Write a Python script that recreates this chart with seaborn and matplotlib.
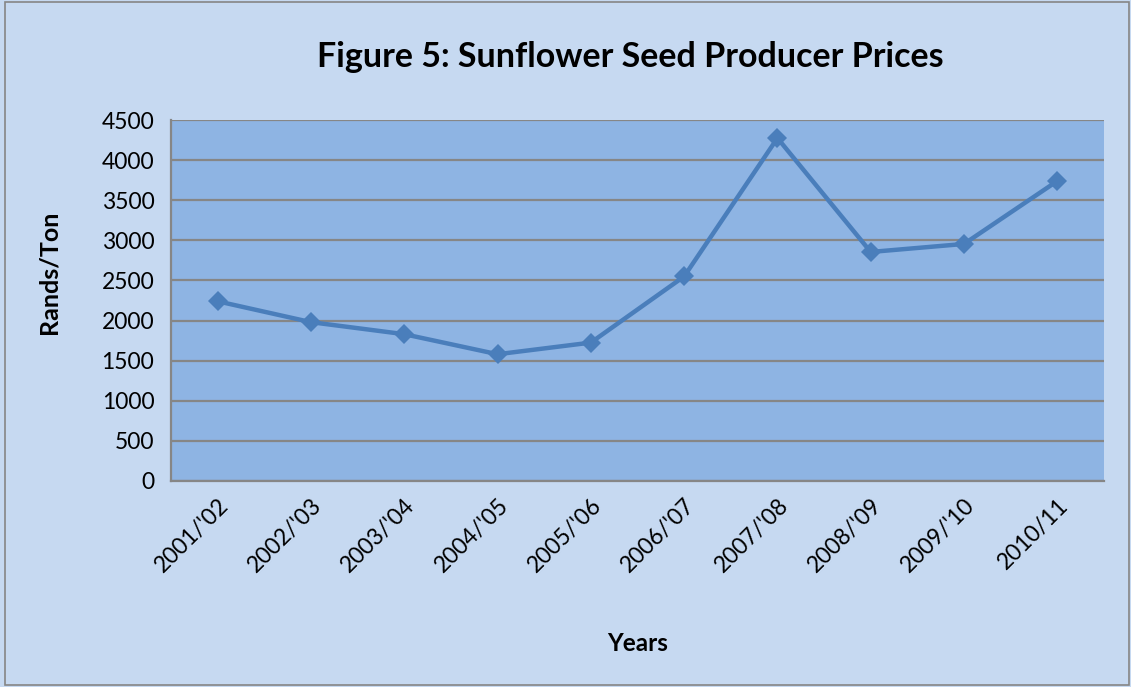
import matplotlib
matplotlib.use("Agg")
import matplotlib.pyplot as plt
import seaborn as sns
import pandas as pd
import numpy as np
from matplotlib.patches import Rectangle

years = ["2001/'02", "2002/'03", "2003/'04", "2004/'05", "2005/'06",
         "2006/'07", "2007/'08", "2008/'09", "2009/'10", "2010/11"]
prices = [2240, 1980, 1830, 1580, 1725, 2550, 4275, 2855, 2955, 3740]

df = pd.DataFrame({"pos": np.arange(len(years)), "price": prices})

sns.set_style("white")
plt.rcParams['font.family'] = ['Lato', 'DejaVu Sans']
plt.rcParams['text.color'] = 'black'
plt.rcParams['xtick.color'] = 'black'
plt.rcParams['ytick.color'] = 'black'

fig = plt.figure(figsize=(11.31, 6.87), dpi=100, facecolor="#C6D9F1")
ax = fig.add_axes([0.1512, 0.2999, 0.8249, 0.5254])
ax.set_facecolor("#8EB4E3")

sns.lineplot(data=df, x="pos", y="price", ax=ax, color="#4A7EBB",
             linewidth=3.2, marker="D", markersize=10, markeredgewidth=0,
             sort=False)

ax.set_xlim(-0.5, len(years) - 0.5)
ax.set_ylim(0, 4500)
ax.set_yticks(np.arange(0, 4501, 500))
ax.yaxis.grid(True, color="#868686", linewidth=1.6)
ax.set_axisbelow(True)

# category boundaries as major ticks, labels on minor ticks at centres
ax.set_xticks(np.arange(-0.5, len(years), 1.0))
ax.set_xticklabels([])
ax.set_xticks(np.arange(len(years)), minor=True)
ax.set_xticklabels(years, minor=True, rotation=45, ha="right",
                   rotation_mode="anchor", fontsize=16.5)
ax.tick_params(axis="x", which="minor", length=0, pad=10, labelcolor="black")
ax.tick_params(axis="x", which="major", length=8, width=1.5,
               color="#868686", direction="out")
ax.tick_params(axis="y", length=8, width=1.5, color="#868686",
               direction="out", labelsize=16.5, pad=4, labelcolor="black")

for side in ["top", "right"]:
    ax.spines[side].set_visible(False)
for side in ["left", "bottom"]:
    ax.spines[side].set_color("#868686")
    ax.spines[side].set_linewidth(1.6)

ax.set_xlabel("")
ax.set_ylabel("")
fig.text(0.0435, 0.603, "Rands/Ton", rotation=90, ha="center", va="center",
         fontsize=18, fontweight="bold")

fig.text(0.557, 0.917, "Figure 5: Sunflower Seed Producer Prices",
         ha="center", va="center", fontsize=24.5, fontweight="bold")
fig.text(0.564, 0.064, "Years", ha="center", va="center",
         fontsize=17.5, fontweight="bold")

fig.patches.append(Rectangle((0.004, 0.003), 0.994, 0.994, transform=fig.transFigure,
                             fill=False, edgecolor="#868686", linewidth=1.2))

fig.savefig("out.png", dpi=100, facecolor=fig.get_facecolor())
